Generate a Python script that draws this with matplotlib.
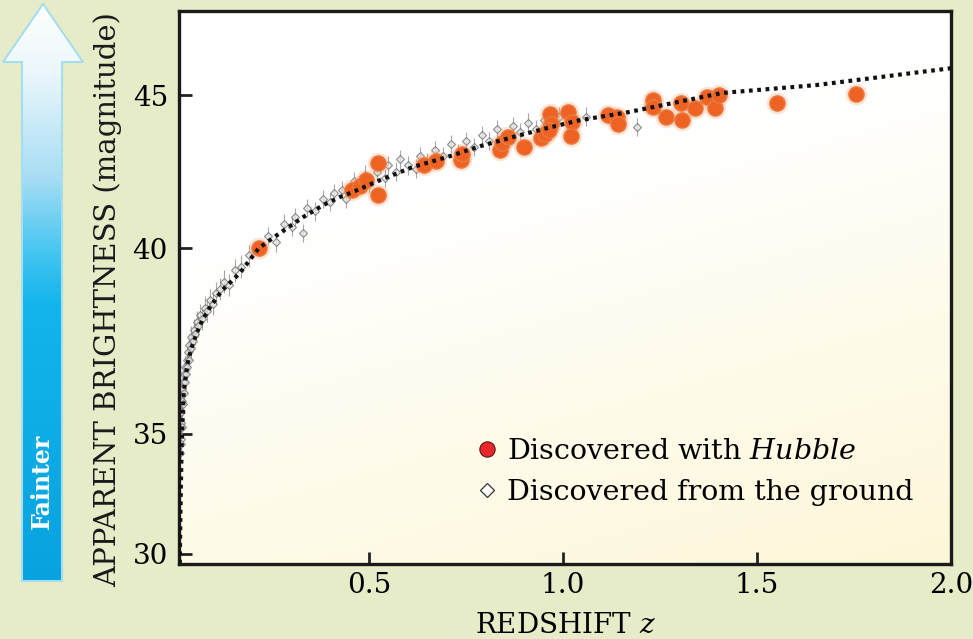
import numpy as np
import matplotlib
matplotlib.use('Agg')
import matplotlib.pyplot as plt
from matplotlib.colors import LinearSegmentedColormap, to_rgb
from matplotlib.patches import Polygon
from matplotlib.lines import Line2D

plt.rcParams['font.family'] = 'DejaVu Serif'
plt.rcParams['mathtext.fontset'] = 'custom'
plt.rcParams['mathtext.rm'] = 'DejaVu Serif'
plt.rcParams['mathtext.it'] = 'DejaVu Serif:italic'

# supernovae discovered with Hubble (redshift, magnitude)
hubble_z = [0.216, 0.456, 0.476, 0.492, 0.523, 0.523, 0.641, 0.672, 0.737, 0.739,
            0.837, 0.843, 0.858, 0.899, 0.943, 0.953, 0.966, 0.969, 0.964, 1.013,
            1.023, 1.020, 1.116, 1.139, 1.141, 1.232, 1.232, 1.265, 1.304, 1.307,
            1.340, 1.371, 1.392, 1.402, 1.551, 1.755]
hubble_m = [40.00, 41.90, 42.03, 42.22, 42.78, 41.73, 42.71, 42.84, 42.88, 43.07,
            43.20, 43.43, 43.63, 43.30, 43.59, 43.73, 44.38, 44.05, 43.86, 44.44,
            44.12, 43.66, 44.35, 44.28, 44.05, 44.84, 44.61, 44.28, 44.74, 44.18,
            44.58, 44.93, 44.58, 45.00, 44.74, 45.03]

# supernovae discovered from the ground
ground_z = [0.013, 0.014, 0.015, 0.015, 0.016, 0.017, 0.018, 0.019, 0.020, 0.021,
            0.022, 0.023, 0.025, 0.026, 0.028, 0.030, 0.031, 0.033, 0.035, 0.037,
            0.040, 0.042, 0.045, 0.048, 0.052, 0.056, 0.060, 0.065, 0.070, 0.076,
            0.082, 0.090, 0.098, 0.105, 0.115, 0.125, 0.14, 0.155, 0.17, 0.19,
            0.24, 0.26, 0.28, 0.30, 0.31, 0.33, 0.34, 0.36, 0.38, 0.40,
            0.41, 0.43, 0.44, 0.46, 0.47, 0.49, 0.50, 0.52, 0.54, 0.55,
            0.57, 0.58, 0.60, 0.62, 0.63, 0.65, 0.67, 0.69, 0.71, 0.73,
            0.75, 0.77, 0.79, 0.81, 0.83, 0.85, 0.87, 0.89, 0.91, 0.93,
            0.95, 0.97, 0.99, 1.02, 1.06, 1.19]
ground_m = [34.2, 34.8, 35.3, 34.6, 35.6, 35.2, 35.9, 36.2, 35.8, 36.4,
            36.1, 36.6, 36.4, 36.8, 36.6, 37.0, 36.8, 37.2, 37.0, 37.4,
            37.3, 37.6, 37.5, 37.8, 37.7, 38.0, 37.9, 38.2, 38.1, 38.4,
            38.3, 38.6, 38.5, 38.8, 38.9, 39.1, 39.0, 39.4, 39.5, 39.8,
            40.4, 40.2, 40.8, 40.7, 41.0, 40.5, 41.3, 41.2, 41.6, 41.5,
            41.8, 41.9, 41.6, 42.2, 42.0, 42.4, 42.1, 42.5, 42.3, 42.7,
            42.5, 42.9, 42.7, 42.6, 43.0, 42.8, 43.2, 43.0, 43.4, 43.1,
            43.5, 43.3, 43.7, 43.5, 43.9, 43.6, 44.0, 43.8, 44.1, 43.9,
            44.2, 44.0, 44.3, 44.1, 44.3, 43.95]

# dotted model curve
model_z = [0.012, 0.0135, 0.015, 0.017, 0.019, 0.022, 0.028, 0.034, 0.045, 0.056,
           0.07, 0.09, 0.12, 0.167, 0.216, 0.27, 0.33, 0.381, 0.425, 0.458,
           0.528, 0.613, 0.70, 0.786, 0.871, 0.958, 1.043, 1.167, 1.41, 1.654, 2.0]
model_m = [29.6, 31.5, 33.0, 34.5, 35.3, 36.1, 36.6, 37.0, 37.4, 37.72,
           38.05, 38.41, 38.85, 39.33, 40.0, 40.49, 41.01, 41.40, 41.67, 41.83,
           42.22, 42.65, 42.97, 43.33, 43.63, 43.92, 44.18, 44.44, 45.07, 45.33, 45.88]

x_ticks = [0.5, 1.0, 1.5, 2.0]
y_ticks = [30, 35, 40, 45]

# the magnitude axis in the original is not evenly spaced
scale_mag = [25, 30, 35, 40, 45, 50]
scale_pos = [-120, 0, 120, 306, 459, 612]


def forward(m):
    return np.interp(m, scale_mag, scale_pos)


def inverse(v):
    return np.interp(v, scale_pos, scale_mag)


fig = plt.figure(figsize=(9.73, 6.39), dpi=100)
fig.patch.set_facecolor('#e5ecc7')

ax = fig.add_axes([179 / 973, 1 - 564 / 639, 772 / 973, 553 / 639])
ax.set_yscale('function', functions=(forward, inverse))
ax.set_xlim(0.01, 2.0)
ax.set_ylim(29.58, 47.75)

# soft white -> pale yellow background inside the frame (yellow toward bottom right)
gx, gy = np.meshgrid(np.linspace(0, 1, 200), np.linspace(0, 1, 200))
t = np.clip(gy * 0.9 + gx * 0.35 - 0.4, 0, 1)
c0 = np.array(to_rgb('#ffffff'))
c1 = np.array(to_rgb('#fdf6d2'))
bg = c0 + (c1 - c0) * t[..., None]
ax.imshow(bg, extent=(0, 1, 0, 1), transform=ax.transAxes, aspect='auto', zorder=0)

ax.errorbar(ground_z, ground_m, yerr=0.3, fmt='D', ms=4, mfc='#e6e6e6', mec='#6a6a6a',
            mew=0.8, ecolor='#8a8a8a', elinewidth=0.8, alpha=0.75, zorder=2)
ax.scatter(hubble_z, hubble_m, s=240, color='#f6a677', alpha=0.3, lw=0, zorder=3)
ax.scatter(hubble_z, hubble_m, s=120, color='#ee6323', edgecolor='#ea7a40', lw=1, zorder=4)
ax.plot(model_z, model_m, color='#111111', lw=3, ls=(0, (0.9, 1.1)), zorder=5)

ax.set_xticks(x_ticks)
ax.set_xticklabels(['0.5', '1.0', '1.5', '2.0'])
ax.set_yticks(y_ticks)
ax.minorticks_off()
ax.tick_params(direction='in', length=9, width=2, labelsize=20, color='#222222')
ax.tick_params(axis='y', pad=8)
ax.tick_params(axis='x', pad=6)
ax.yaxis.get_major_ticks()[0].tick1line.set_color('#aaaaaa')
ax.xaxis.get_major_ticks()[-1].tick1line.set_visible(False)
for sp in ax.spines.values():
    sp.set_linewidth(2.4)
    sp.set_color('#1a1a1a')

ax.set_xlabel('REDSHIFT $z$', fontsize=20, labelpad=9)
fig.text(108 / 973, 1 - 300 / 639, 'APPARENT BRIGHTNESS (magnitude)', rotation=90,
         fontsize=21, ha='center', va='center', color='#1a1a1a')

handles = [
    Line2D([], [], marker='o', ls='', ms=11, mfc='#e8262b', mec='#5a1515', mew=0.8),
    Line2D([], [], marker='D', ls='', ms=7, mfc='white', mec='#333333', mew=0.9),
]
labels = ['Discovered with $\\mathit{Hubble}$', 'Discovered from the ground']
ax.legend(handles, labels, loc='center left', bbox_to_anchor=(0.362, 0.166), frameon=False,
          fontsize=20.5, borderpad=0, handlelength=1.0, handletextpad=0.2, labelspacing=0.5)

# "Fainter" arrow on the left
aax = fig.add_axes([0, 0, 90 / 973, 1])
aax.set_xlim(0, 90)
aax.set_ylim(639, 0)
aax.axis('off')
arrow_pts = [(43, 4), (83, 62), (62, 62), (62, 581), (22, 581), (22, 62), (3, 62)]
arrow = Polygon(arrow_pts, closed=True, facecolor='none', edgecolor='#a5def0', lw=1.5, zorder=3)
aax.add_patch(arrow)
cmap = LinearSegmentedColormap.from_list('fainter', [
    (0.0, '#ffffff'), (0.12, '#eaf7fc'), (0.3, '#a6ddf4'), (0.43, '#45c5f0'),
    (0.52, '#12b5eb'), (1.0, '#08a2e0')])
grad = np.linspace(0, 1, 300)[:, None] * np.ones((1, 10))
img = aax.imshow(grad, cmap=cmap, extent=(0, 90, 581, 4), aspect='auto', zorder=2)
img.set_clip_path(arrow)
fig.text(42 / 973, 1 - 481 / 639, 'Fainter', rotation=90, color='white', fontweight='bold',
         fontsize=17, ha='center', va='center')

fig.savefig('out.png', dpi=100, facecolor=fig.get_facecolor())
